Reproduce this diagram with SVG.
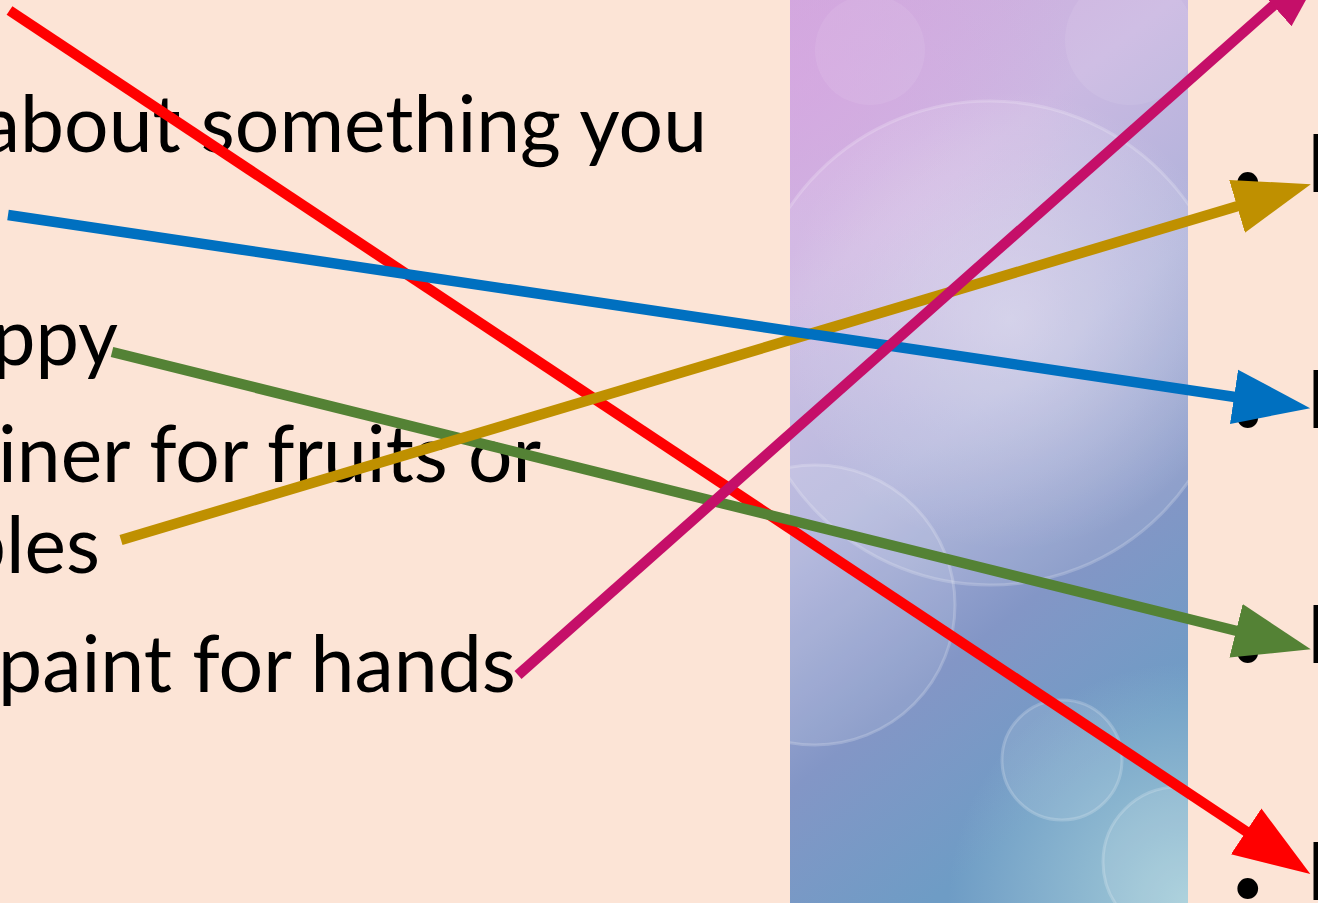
<svg xmlns="http://www.w3.org/2000/svg" width="1318" height="903" viewBox="0 0 1318 903">
<style>
.t{font-family:Lato,"Liberation Sans",sans-serif;font-size:80px;fill:#000}
.r{font-family:Lato,"Liberation Sans",sans-serif;font-size:82px;fill:#000}
.b{font-family:Lato,"Liberation Sans",sans-serif;font-size:56px;fill:#000}
.c{fill:none;stroke-width:10.5;stroke-linecap:butt}
.bub{fill:#ffffff;fill-opacity:0.1;stroke:#ffffff;stroke-opacity:0.2;stroke-width:3}
</style>
<defs>
<linearGradient id="band" x1="0" y1="0" x2="0.35" y2="1">
<stop offset="0" stop-color="#CFA8DC"/>
<stop offset="0.3" stop-color="#CBB9E2"/>
<stop offset="0.55" stop-color="#AEB2DA"/>
<stop offset="0.78" stop-color="#8396C6"/>
<stop offset="1" stop-color="#6E9CC5"/>
</linearGradient>
<radialGradient id="teal" cx="1188" cy="903" r="240" gradientUnits="userSpaceOnUse">
<stop offset="0" stop-color="#A8D0DA" stop-opacity="0.95"/>
<stop offset="1" stop-color="#A8D0DA" stop-opacity="0"/>
</radialGradient>
<radialGradient id="pink" cx="800" cy="80" r="280" gradientUnits="userSpaceOnUse">
<stop offset="0" stop-color="#D9A6E2" stop-opacity="0.6"/>
<stop offset="1" stop-color="#D9A6E2" stop-opacity="0"/>
</radialGradient>
<radialGradient id="glow" cx="1010" cy="320" r="230" gradientUnits="userSpaceOnUse">
<stop offset="0" stop-color="#ECE6F4" stop-opacity="0.5"/>
<stop offset="1" stop-color="#ECE6F4" stop-opacity="0"/>
</radialGradient>
<clipPath id="bandclip"><rect x="790" y="0" width="398" height="903"/></clipPath>
<marker id="ah-red" markerUnits="userSpaceOnUse" markerWidth="80" markerHeight="60" viewBox="0 -30 80 60" refX="1" refY="0" orient="auto"><path d="M0,-27.5 L77,0 L0,27.5 Z" fill="#FF0000"/></marker>
<marker id="ah-blue" markerUnits="userSpaceOnUse" markerWidth="80" markerHeight="60" viewBox="0 -30 80 60" refX="1" refY="0" orient="auto"><path d="M0,-27.5 L77,0 L0,27.5 Z" fill="#0070C0"/></marker>
<marker id="ah-gold" markerUnits="userSpaceOnUse" markerWidth="80" markerHeight="60" viewBox="0 -30 80 60" refX="1" refY="0" orient="auto"><path d="M0,-27.5 L77,0 L0,27.5 Z" fill="#BF9000"/></marker>
<marker id="ah-green" markerUnits="userSpaceOnUse" markerWidth="80" markerHeight="60" viewBox="0 -30 80 60" refX="1" refY="0" orient="auto"><path d="M0,-27.5 L77,0 L0,27.5 Z" fill="#548235"/></marker>
<marker id="ah-mag" markerUnits="userSpaceOnUse" markerWidth="80" markerHeight="60" viewBox="0 -30 80 60" refX="1" refY="0" orient="auto"><path d="M0,-27.5 L77,0 L0,27.5 Z" fill="#C50F69"/></marker>
</defs>
<rect x="0" y="0" width="1318" height="903" fill="#FCE4D6"/>
<g id="band-image" clip-path="url(#bandclip)">
<rect x="790" y="0" width="398" height="903" fill="url(#band)"/>
<rect x="790" y="0" width="398" height="903" fill="url(#pink)"/>
<rect x="790" y="0" width="398" height="903" fill="url(#glow)"/>
<rect x="790" y="0" width="398" height="903" fill="url(#teal)"/>
<circle class="bub" cx="990" cy="343" r="242"/>
<circle class="bub" cx="815" cy="605" r="140"/>
<circle class="bub" cx="1062" cy="760" r="60" fill-opacity="0.14"/>
<circle class="bub" cx="1178" cy="862" r="75" fill-opacity="0.18"/>
<circle cx="1130" cy="40" r="65" fill="#ffffff" fill-opacity="0.08"/>
<circle cx="870" cy="50" r="55" fill="#ffffff" fill-opacity="0.08"/>
</g>
<g id="left-texts">
<text class="t" x="-19" y="152" textLength="726" lengthAdjust="spacingAndGlyphs">about something you</text>
<text class="t" x="-8" y="365" textLength="126" lengthAdjust="spacingAndGlyphs">ppy</text>
<text class="t" x="-2" y="482" textLength="543" lengthAdjust="spacingAndGlyphs">iner for fruits or</text>
<text class="t" x="-38" y="573" textLength="138" lengthAdjust="spacingAndGlyphs">bles</text>
<text class="t" x="-2" y="692" textLength="518" lengthAdjust="spacingAndGlyphs">paint for hands</text>
</g>
<g id="right-items">
<g id="item1"><text class="b" x="1231.5" y="199">•</text><text class="r" x="1306" y="192">B</text></g>
<g id="item2"><text class="b" x="1231.5" y="434">•</text><text class="r" x="1306" y="428">B</text></g>
<g id="item3"><text class="b" x="1231.5" y="669">•</text><text class="r" x="1306" y="663">B</text></g>
<g id="item4"><text class="b" x="1231.5" y="905">•</text><text class="r" x="1306" y="900">B</text></g>
</g>
<g id="connectors">
<line class="c" x1="9.5" y1="10.5" x2="1247" y2="832" stroke="#FF0000" marker-end="url(#ah-red)"/>
<line class="c" x1="112" y1="352" x2="1237" y2="631" stroke="#548235" marker-end="url(#ah-green)"/>
<line class="c" x1="121" y1="540" x2="1238" y2="206" stroke="#BF9000" marker-end="url(#ah-gold)"/>
<line class="c" x1="8" y1="215" x2="1235" y2="397" stroke="#0070C0" marker-end="url(#ah-blue)"/>
<line class="c" x1="518" y1="675" x2="1274" y2="5" stroke="#C50F69" marker-end="url(#ah-mag)"/>
</g>
</svg>
